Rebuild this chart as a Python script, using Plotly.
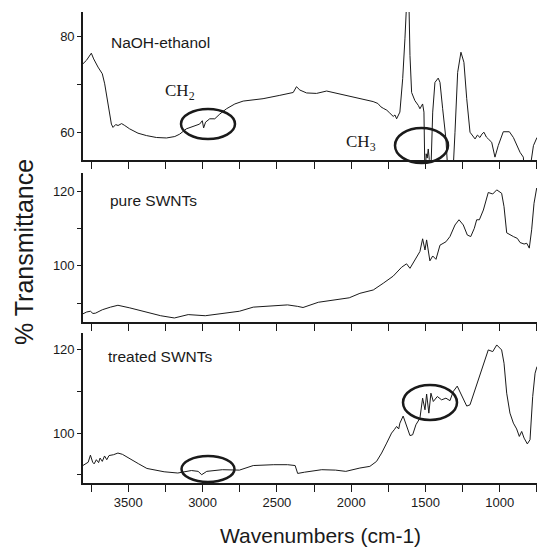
import plotly.graph_objects as go

# ---------------- data ----------------
naoh_w = [3805, 3782, 3749, 3733, 3704, 3675, 3659, 3637, 3614, 3603, 3585, 3569, 3545, 3524, 3491,
          3435, 3378, 3311, 3243, 3187, 3154, 3110, 3053, 3020, 3002, 2993, 2980, 2952, 2918, 2884,
          2839, 2783, 2727, 2660, 2593, 2480, 2390, 2368, 2345, 2300, 2233, 2165, 2076, 1963, 1896,
          1852, 1820, 1800, 1784, 1760, 1740, 1717, 1705, 1694, 1672, 1653, 1638, 1625, 1611, 1604,
          1593, 1571, 1548, 1537, 1519, 1510, 1503, 1495, 1488, 1481, 1474, 1465, 1451, 1436, 1414,
          1402, 1384, 1362, 1346, 1317, 1301, 1283, 1261, 1241, 1222, 1200, 1166, 1150, 1133, 1120,
          1106, 1090, 1077, 1054, 1032, 1010, 976, 935, 908, 886, 863, 841, 829, 807, 773, 749]
naoh_v = [74.3, 75.0, 76.5, 75.3, 73.6, 72.2, 70.1, 65.6, 61.7, 61.0, 61.6, 61.4, 61.8, 61.4, 60.7,
          59.8, 59.3, 58.9, 58.8, 59.1, 59.6, 60.7, 61.4, 61.7, 62.4, 60.9, 62.1, 62.8, 62.8, 63.8,
          64.9, 65.9, 66.5, 66.8, 67.0, 67.7, 68.3, 69.5, 68.8, 68.2, 68.1, 68.6, 68.0, 67.3, 66.8,
          66.4, 66.0, 65.3, 65.0, 64.6, 64.0, 63.3, 63.6, 62.8, 64.2, 71.2, 79.5, 88.0, 87.0, 76.0,
          68.3, 66.6, 65.6, 64.9, 65.9, 64.2, 50.0, 55.5, 54.6, 56.5, 54.3, 50.0, 64.2, 70.4, 71.3,
          70.4, 64.9, 58.6, 50.0, 50.0, 60.0, 72.5, 76.7, 74.6, 67.0, 60.0, 58.6, 59.4, 58.9, 59.6,
          60.0, 59.0, 58.6, 57.9, 54.8, 57.2, 60.1, 60.1, 58.9, 57.2, 55.8, 54.8, 50.0, 50.0, 57.2, 58.9]

pure_w = [3806, 3780, 3755, 3738, 3720, 3675, 3620, 3570, 3490, 3398, 3282, 3190, 3097, 2982, 2867,
          2752, 2659, 2544, 2428, 2360, 2324, 2221, 2105, 2013, 1941, 1851, 1784, 1717, 1660, 1627,
          1604, 1571, 1537, 1519, 1503, 1492, 1470, 1451, 1429, 1402, 1362, 1335, 1301, 1274, 1245,
          1218, 1195, 1171, 1155, 1137, 1110, 1077, 1047, 1020, 987, 971, 953, 908, 881, 863,
          836, 818, 801, 785, 769, 751]
pure_v = [87.1, 87.6, 87.8, 87.2, 87.3, 88.2, 88.9, 89.4, 88.7, 87.8, 86.6, 86.0, 86.9, 86.6, 87.3,
          87.8, 88.9, 89.1, 89.5, 89.1, 88.8, 90.2, 90.9, 91.4, 92.6, 93.5, 95.3, 97.2, 99.6, 100.5,
          99.3, 101.5, 103.8, 107.2, 104.2, 106.9, 101.3, 102.6, 101.7, 105.5, 106.4, 107.8, 110.9, 112.3, 110.9,
          108.2, 107.8, 110.0, 112.3, 112.3, 114.9, 119.6, 119.2, 120.3, 119.4, 115.8, 108.8, 107.8, 107.3, 106.2,
          105.8, 106.0, 104.7, 109.6, 116.7, 120.8]

treated_w = [3806, 3770, 3755, 3740, 3730, 3715, 3700, 3690, 3675, 3660, 3645, 3630, 3600, 3570, 3540,
             3490, 3430, 3375, 3259, 3167, 3075, 3030, 3006, 2972, 2867, 2752, 2659, 2521, 2428, 2377,
             2360, 2314, 2198, 2105, 2036, 1941, 1874, 1829, 1795, 1761, 1728, 1710, 1694, 1680, 1672,
             1650, 1627, 1604, 1586, 1564, 1537, 1519, 1503, 1492, 1477, 1463, 1447, 1420, 1391, 1362,
             1335, 1313, 1286, 1256, 1222, 1200, 1166, 1144, 1110, 1077, 1047, 1020, 987, 971, 953,
             931, 908, 886, 868, 852, 836, 814, 796, 778, 762, 749]
treated_v = [92.2, 93.0, 94.7, 93.0, 92.6, 93.6, 92.9, 94.0, 93.2, 94.5, 93.6, 94.6, 94.8, 95.2, 94.9,
             93.8, 92.6, 91.5, 90.7, 90.4, 91.0, 90.8, 90.0, 90.8, 91.2, 91.1, 92.2, 92.4, 92.4, 92.2,
             90.3, 90.6, 91.2, 91.1, 90.8, 91.6, 92.0, 93.2, 95.2, 97.6, 100.0, 100.8, 101.6, 101.0, 102.4,
             104.1, 101.6, 99.4, 99.6, 102.0, 103.6, 108.4, 105.6, 109.4, 104.8, 109.6, 107.6, 108.8, 108.0, 108.4,
             107.8, 110.0, 111.3, 109.2, 106.5, 106.8, 110.4, 112.4, 116.0, 120.0, 119.6, 121.2, 120.0, 116.8, 109.6,
             104.8, 102.4, 101.0, 99.2, 100.4, 98.8, 97.4, 98.4, 108.8, 114.4, 116.0]

panel_labels = ["NaOH-ethanol", "pure SWNTs", "treated SWNTs"]
x_title = "Wavenumbers (cm-1)"
y_title = "% Transmittance"

# ---------------- layout geometry ----------------
W, H = 537, 548
ML, MR, MT, MB = 83, 0, 12, 65
PW, PH = W - ML - MR, H - MT - MB


def px_x(px):
    return (px - ML) / PW


def px_y(py):
    return (H - MB - py) / PH


FONT = "Liberation Sans, Arial, sans-serif"
SERIF = "Liberation Serif, Times New Roman, serif"
INK = "#1a1a1a"

fig = go.Figure()
series = [(naoh_w, naoh_v), (pure_w, pure_v), (treated_w, treated_v)]
for i, (wv, vv) in enumerate(series):
    fig.add_trace(go.Scatter(x=wv, y=vv, mode="lines",
                             line=dict(color=INK, width=1),
                             xaxis="x" if i == 0 else f"x{i+1}",
                             yaxis="y" if i == 0 else f"y{i+1}",
                             showlegend=False, hoverinfo="skip"))

domains = [[px_y(160), 1.0], [px_y(321.7), px_y(172.7)], [0.0, px_y(333.3)]]
yranges = [[54.2, 85.1], [85.0, 124.9], [88.0, 124.0]]
xrange_ = [3805, 749]

layout = dict(width=W, height=H, margin=dict(l=ML, r=MR, t=MT, b=MB),
              paper_bgcolor="white", plot_bgcolor="white", showlegend=False,
              font=dict(family=FONT, color=INK, size=12))
for i in range(3):
    xs = "xaxis" if i == 0 else f"xaxis{i+1}"
    ys = "yaxis" if i == 0 else f"yaxis{i+1}"
    yid = "y" if i == 0 else f"y{i+1}"
    xid = "x" if i == 0 else f"x{i+1}"
    layout[xs] = dict(range=xrange_, domain=[0, 1], anchor=yid,
                      showline=True, linecolor=INK, linewidth=1.6, mirror=False,
                      showgrid=False, zeroline=False,
                      ticks="outside", ticklen=7, tickwidth=1, tickcolor=INK,
                      tick0=0, dtick=500,
                      minor=dict(dtick=250, tick0=0, ticks="outside", ticklen=7,
                                 tickwidth=1, tickcolor=INK, showgrid=False),
                      showticklabels=(i == 2),
                      tickfont=dict(family=FONT, size=13, color=INK))
    layout[ys] = dict(range=yranges[i], domain=domains[i], anchor=xid,
                      showline=True, linecolor=INK, linewidth=1.6,
                      showgrid=False, zeroline=False,
                      ticks="outside", ticklen=4, tickwidth=1, tickcolor=INK,
                      tick0=0, dtick=20,
                      minor=dict(dtick=10, tick0=0, ticks="outside", ticklen=4,
                                 tickwidth=1, tickcolor=INK, showgrid=False),
                      tickfont=dict(family=FONT, size=13, color=INK))
fig.update_layout(**layout)

ann = []
label_pos = [(109, 43), (108, 200), (106, 356)]
for txt, (lx, ly) in zip(panel_labels, label_pos):
    ann.append(dict(text=txt, x=px_x(lx), y=px_y(ly), xref="paper", yref="paper",
                    xanchor="left", yanchor="middle", showarrow=False,
                    font=dict(family=FONT, size=15.5, color=INK)))
ann.append(dict(text="CH<sub>2</sub>", x=px_x(180), y=px_y(92), xref="paper", yref="paper",
                xanchor="center", yanchor="middle", showarrow=False,
                font=dict(family=SERIF, size=17, color=INK)))
ann.append(dict(text="CH<sub>3</sub>", x=px_x(361), y=px_y(143), xref="paper", yref="paper",
                xanchor="center", yanchor="middle", showarrow=False,
                font=dict(family=SERIF, size=17, color=INK)))
ann.append(dict(text=x_title, x=px_x(320), y=px_y(535), xref="paper", yref="paper",
                xanchor="center", yanchor="middle", showarrow=False,
                font=dict(family=FONT, size=21, color=INK)))
ann.append(dict(text=y_title, x=px_x(24), y=px_y(252), xref="paper", yref="paper",
                xanchor="center", yanchor="middle", showarrow=False, textangle=-90,
                font=dict(family=FONT, size=25, color=INK)))
fig.update_layout(annotations=ann)

ellipses = [(181, 109, 235, 139), (395, 128, 448, 163), (181.5, 456, 234.5, 482), (403, 385, 457, 420)]
for (x0, y0, x1, y1) in ellipses:
    fig.add_shape(type="circle", xref="paper", yref="paper",
                  x0=px_x(x0), x1=px_x(x1), y0=px_y(y1), y1=px_y(y0),
                  line=dict(color=INK, width=2.5), layer="above")

fig.write_html("out.html", config={"displayModeBar": False},
               post_script="document.body.style.margin='0';document.body.style.overflow='hidden';")
